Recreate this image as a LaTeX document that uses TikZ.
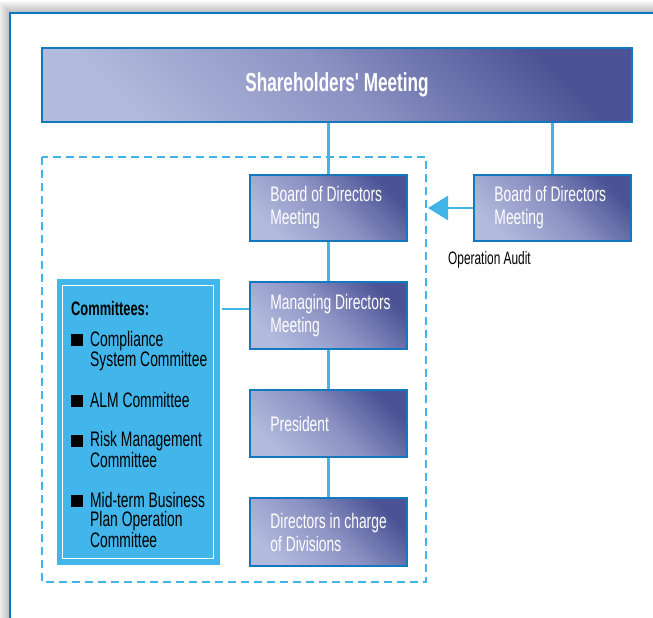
\documentclass[tikz,border=0pt]{standalone}
\usepackage{fontspec}
\setmainfont{Liberation Sans}[FakeStretch=0.66, Ligatures=TeXOff]
\usepackage{xcolor}
\usepackage{tikz}
\usetikzlibrary{shapes, arrows.meta, positioning, calc}

\definecolor{framec}{HTML}{0A77C0}
\definecolor{linkc}{HTML}{41B5E8}
\definecolor{boxlight}{HTML}{B2BADD}
\definecolor{boxmid}{HTML}{8D93C3}
\definecolor{boxdark}{HTML}{4B5396}
\definecolor{boxedge}{HTML}{1478C0}
\definecolor{commc}{HTML}{42B6EA}

\newcommand{\commbullet}{\rule{12pt}{12pt}\hspace{7pt}}

\begin{document}
\begin{tikzpicture}[x=1pt, y=-1pt,
  orgbox/.style={draw=boxedge, line width=1.5pt, minimum width=157pt, minimum height=66pt,
    inner sep=0pt, top color=boxdark, bottom color=boxlight, middle color=boxmid, shading angle=-45},
  boxtext/.style={text=white, font=\fontsize{21}{23}\selectfont, align=left, inner sep=0pt},
  link/.style={linkc, line width=2.5pt}]
  \useasboundingbox (0,0) rectangle (653,618);
  \clip (0,0) rectangle (653,618);

  % Page frame with a soft shadow
  \foreach \w in {2,4,...,24}
    \draw[black, opacity=0.025, line width=\w pt] (10,13) rectangle (680,640);
  \fill[white] (10,13) rectangle (680,640);
  \draw[framec, line width=2pt] (10,13) rectangle (680,640);

  % Top of the organisation
  \node[orgbox, minimum width=590pt, minimum height=74pt] (share) at (337,85) {};
  \node[text=white, font=\fontsize{26}{28}\selectfont\bfseries] (sharetext) at (share) {Shareholders' Meeting};

  % Executive boxes
  \node[orgbox] (bod) at (328.5,208) {};
  \node[orgbox] (aud) at (552.5,208) {};
  \node[orgbox, minimum height=67pt] (mdm) at (328.5,315.5) {};
  \node[orgbox, minimum height=67pt] (pres) at (328.5,423.5) {};
  \node[orgbox, minimum height=68pt] (dirs) at (328.5,532) {};

  \node[boxtext, right=21pt of bod.west] (bodtext) {Board of Directors\\Meeting};
  \node[boxtext, right=21pt of aud.west] (audtext) {Board of Directors\\Meeting};
  \node[boxtext, right=21pt of mdm.west] (mdmtext) {Managing Directors\\Meeting};
  \node[boxtext, right=21pt of pres.west] (prestext) {President};
  \node[boxtext, right=21pt of dirs.west] (dirstext) {Directors in charge\\of Divisions};

  % Committees panel
  \node[fill=commc, minimum width=163pt, minimum height=286pt, inner sep=0pt] (comm) at (138.5,422) {};
  \draw[white, line width=1pt] ([shift={(6,7)}]comm.north west) rectangle ([shift={(-7,-7)}]comm.south east);
  \node[anchor=north west, align=left, inner sep=0pt, font=\fontsize{21}{19.5}\selectfont] (commtext) at (71,301) {%
    {\fontsize{19.5}{19.5}\selectfont\bfseries Committees:}\\[11.5pt]
    \commbullet Compliance\\
    \hspace*{19pt}System Committee\\[20pt]
    \commbullet ALM Committee\\[20pt]
    \commbullet Risk Management\\
    \hspace*{19pt}Committee\\[20pt]
    \commbullet Mid-term Business\\
    \hspace*{19pt}Plan Operation\\
    \hspace*{19pt}Committee};

  % Management area
  \draw[link, dash pattern=on 8pt off 5pt] (42,157) rectangle (426,582);
  \coordinate (auditend) at (428,208);

  % Connectors
  \draw[link] (share.south -| bod.north) -- (bod.north);
  \draw[link] (share.south -| aud.north) -- (aud.north);
  \draw[link] (bod) -- (mdm);
  \draw[link] (mdm) -- (pres);
  \draw[link] (pres) -- (dirs);
  \draw[link] ([yshift=6.5pt]mdm.west) -- ([yshift=6.5pt,xshift=2pt]mdm.west -| comm.east);
  \draw[link, -{Triangle[length=20pt,width=24pt]}] (aud.west) -- (auditend);
  \node[anchor=base west, inner sep=0pt, font=\fontsize{18}{20}\selectfont] (oplabel) at (448,264) {Operation Audit};
\end{tikzpicture}
\end{document}
